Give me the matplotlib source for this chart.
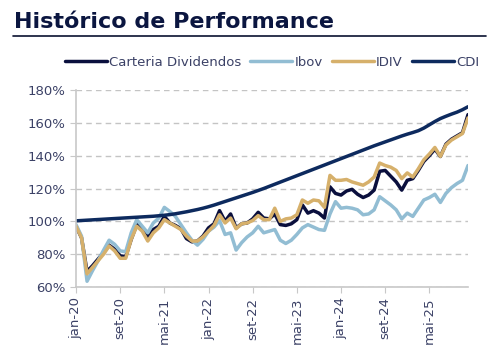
import matplotlib
matplotlib.use("Agg")
import matplotlib.pyplot as plt
from matplotlib.lines import Line2D
from matplotlib.ticker import FuncFormatter

# monthly values, jan-20 .. dez-25 (index 100 = start)
carteira = [97, 90, 69.5, 73, 77, 81, 85.5, 83, 79, 78.5, 89, 98,
            96, 90.5, 95, 97, 103, 99, 97.5, 95.5, 89.5, 87.5, 88, 91,
            96, 98.5, 106.5, 100, 104.5, 96, 98.5, 99, 101.5, 105.5, 102, 101.5,
            104.5, 98, 97.5, 98.5, 101, 110, 105, 106.5, 105, 102, 121, 117,
            116, 118.5, 119.5, 116.5, 114.5, 116, 119, 130.5, 131, 127.5, 124, 119,
            125, 126, 131, 136.5, 140, 144, 139.5, 147, 150, 152, 154, 165]
ibov = [98, 91, 63.5, 70, 76, 82.5, 88.5, 86, 82, 81.5, 93, 101,
        97, 93, 99, 102, 108.5, 106, 103, 98, 93, 88.5, 85.5, 89,
        94, 96.5, 100.5, 92, 93, 82.5, 87, 90.5, 93, 97, 93, 94,
        95, 88.5, 86.5, 88.5, 92, 96, 98, 96.5, 95, 94.5, 104.5, 112,
        108, 108.5, 108, 107, 104, 104.5, 107, 115, 112.5, 110, 107, 101.5,
        105, 103, 108, 113, 114.5, 116.5, 111.5, 117, 120.5, 123, 125, 134]
idiv = [97, 90, 68, 72, 76, 80, 85, 82, 77.5, 77.5, 89, 97,
        94, 88, 93, 96, 101, 99, 97, 95, 91, 88, 88, 90.5,
        94, 97.5, 104, 99, 102, 95.5, 98.5, 99, 100.5, 103.5, 101, 101,
        108, 100, 101.5, 102, 104, 113, 111, 113, 112.5, 108.5, 128, 125,
        125, 125.5, 124, 123, 122, 124, 127, 135.5, 134, 133, 131, 126,
        129.5, 127, 132, 137.5, 141, 145, 139.5, 146.5, 149.5, 151.5, 153.5, 163]
cdi = [100.3, 100.5, 100.7, 100.9, 101.1, 101.3, 101.5, 101.7, 101.9, 102.1, 102.3, 102.5,
       102.7, 102.9, 103.1, 103.4, 103.7, 104.1, 104.6, 105.2, 105.8, 106.5, 107.2, 108.0,
       108.9, 109.9, 111.0, 112.1, 113.2, 114.3, 115.4, 116.5, 117.6, 118.8, 120.0, 121.3,
       122.6, 123.9, 125.2, 126.5, 127.8, 129.1, 130.4, 131.7, 133.0, 134.3, 135.6, 136.9,
       138.2, 139.5, 140.8, 142.1, 143.4, 144.7, 146.0, 147.2, 148.4, 149.6, 150.8, 152.0,
       153.1, 154.1, 155.2, 156.8, 158.8, 160.8, 162.6, 164.0, 165.3, 166.5, 168.0, 169.8]

tick_pos = [0, 8, 16, 24, 32, 40, 48, 56, 64]
tick_labels = ["jan-20", "set-20", "mai-21", "jan-22", "set-22",
               "mai-23", "jan-24", "set-24", "mai-25"]

navy_text = "#0b1640"
label_col = "#3b4166"
months = list(range(len(cdi)))

plt.rcParams["lines.solid_capstyle"] = "round"
plt.rcParams["lines.solid_joinstyle"] = "round"

fig = plt.figure(figsize=(4.95, 3.54), dpi=100)
ax = fig.add_axes([76 / 495, 1 - 287 / 354, (468 - 76) / 495, (287 - 90) / 354])

ax.plot(months, carteira, color="#0a0f3d", lw=2.5, label="Carteria Dividendos")
ax.plot(months, ibov, color="#92bdd3", lw=2.5, label="Ibov")
ax.plot(months, idiv, color="#d6b06b", lw=2.5, label="IDIV")
ax.plot(months, cdi, color="#0d2a5e", lw=2.5, label="CDI")

ax.set_xlim(0, 71)
ax.set_ylim(60, 180)
ax.set_yticks(range(60, 181, 20))
ax.yaxis.set_major_formatter(FuncFormatter(lambda v, p: f"{v:.0f}%"))
ax.set_xticks(tick_pos)
ax.set_xticklabels(tick_labels, rotation=90)

ax.grid(axis="y", color="#c4c4c4", ls=(0, (4, 3)), lw=1)
ax.set_axisbelow(True)
for s in ["top", "right"]:
    ax.spines[s].set_visible(False)
for s in ["left", "bottom"]:
    ax.spines[s].set_color("#c8c8c8")
    ax.spines[s].set_linewidth(1.2)
ax.tick_params(colors="#c8c8c8", labelcolor=label_col, labelsize=9.5, length=4)

# title and rule
fig.text(14 / 495, 1 - 28 / 354, "Histórico de Performance", fontsize=16,
         fontweight="bold", color=navy_text, family="DejaVu Sans", va="baseline")
fig.add_artist(Line2D([13 / 495, 486 / 495], [1 - 36 / 354] * 2,
                      color="#0b1230", lw=1.2))

fig.legend(loc="center", bbox_to_anchor=(272 / 495, 1 - 62 / 354), ncol=4,
           frameon=False, fontsize=9.5, handlelength=3.2, handletextpad=0.15,
           columnspacing=0.7, labelcolor=label_col, borderaxespad=0)

fig.savefig("out.png", dpi=100)
